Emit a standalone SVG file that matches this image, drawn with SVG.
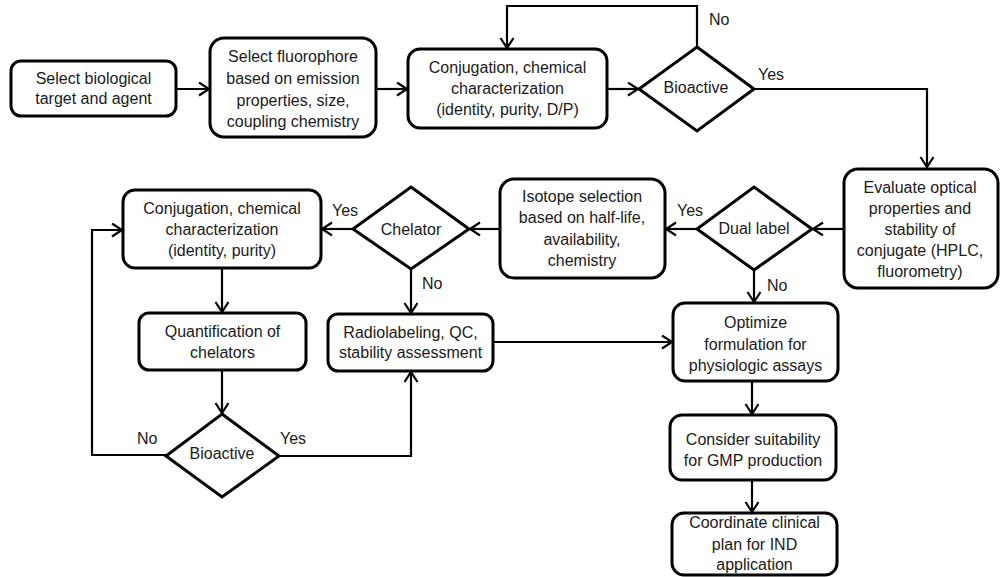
<svg xmlns="http://www.w3.org/2000/svg" width="1000" height="577" viewBox="0 0 1000 577">
<style>
.b{fill:#fff;stroke:#000;stroke-width:3}
.t{font-family:"Liberation Sans",Arial,sans-serif;font-size:16px;fill:#1a1a1a;text-anchor:middle}
.l{font-family:"Liberation Sans",Arial,sans-serif;font-size:16px;fill:#1a1a1a}
.c{fill:none;stroke:#000;stroke-width:2.2}
</style>
<defs>
<marker id="a" markerUnits="userSpaceOnUse" markerWidth="14" markerHeight="16" refX="11" refY="7" orient="auto">
<path d="M1,0.5 L11,7 L1,13.5" fill="none" stroke="#000" stroke-width="2.2"/>
</marker>
</defs>
<rect width="1000" height="577" fill="#fff"/>
<g id="connectors">
<path class="c" d="M176,89 H209" marker-end="url(#a)"/>
<path class="c" d="M376,89 H407" marker-end="url(#a)"/>
<path class="c" d="M607,89 H638" marker-end="url(#a)"/>
<path class="c" d="M697,47 V6 H507 V48" marker-end="url(#a)"/>
<path class="c" d="M754,89 H927 V167" marker-end="url(#a)"/>
<path class="c" d="M844,229 H813" marker-end="url(#a)"/>
<path class="c" d="M697,229 H666" marker-end="url(#a)"/>
<path class="c" d="M499,229 H470" marker-end="url(#a)"/>
<path class="c" d="M353,229 H322" marker-end="url(#a)"/>
<path class="c" d="M411,269 V313" marker-end="url(#a)"/>
<path class="c" d="M754,270 V302" marker-end="url(#a)"/>
<path class="c" d="M222,268 V312" marker-end="url(#a)"/>
<path class="c" d="M222,370 V413" marker-end="url(#a)"/>
<path class="c" d="M166,455 H92 V230 H122" marker-end="url(#a)"/>
<path class="c" d="M279,456 H411 V372" marker-end="url(#a)"/>
<path class="c" d="M493,342 H672" marker-end="url(#a)"/>
<path class="c" d="M752,381 V414" marker-end="url(#a)"/>
<path class="c" d="M752,480 V512" marker-end="url(#a)"/>
</g>
<g id="labels">
<text class="l" x="709" y="25">No</text>
<text class="l" x="758" y="80">Yes</text>
<text class="l" x="677" y="216">Yes</text>
<text class="l" x="332" y="216">Yes</text>
<text class="l" x="767" y="291">No</text>
<text class="l" x="422" y="289">No</text>
<text class="l" x="137" y="444">No</text>
<text class="l" x="280" y="444">Yes</text>
</g>
<g id="n1"><rect class="b" x="11" y="61" width="165" height="55" rx="10"/>
<text class="t" x="93.5" y="84">Select biological</text><text class="t" x="93.5" y="104">target and agent</text></g>
<g id="n2"><rect class="b" x="210" y="38" width="166" height="99" rx="14"/>
<text class="t" x="293" y="62">Select fluorophore</text><text class="t" x="293" y="84">based on emission</text><text class="t" x="293" y="106">properties, size,</text><text class="t" x="293" y="127">coupling chemistry</text></g>
<g id="n3"><rect class="b" x="408" y="49" width="199" height="79" rx="12"/>
<text class="t" x="507.5" y="73">Conjugation, chemical</text><text class="t" x="507.5" y="94">characterization</text><text class="t" x="507.5" y="115">(identity, purity, D/P)</text></g>
<g id="d1"><polygon class="b" points="697,47 754,89 697,131 639,89"/>
<text class="t" x="696" y="93">Bioactive</text></g>
<g id="n4"><rect class="b" x="844" y="169" width="154" height="119" rx="14"/>
<text class="t" x="920" y="193">Evaluate optical</text><text class="t" x="920" y="214">properties and</text><text class="t" x="920" y="235">stability of</text><text class="t" x="920" y="256">conjugate (HPLC,</text><text class="t" x="920" y="277">fluorometry)</text></g>
<g id="d2"><polygon class="b" points="754,187 812,229 754,270 697,229"/>
<text class="t" x="754" y="234">Dual label</text></g>
<g id="n5"><rect class="b" x="500" y="179" width="165" height="99" rx="14"/>
<text class="t" x="582" y="202">Isotope selection</text><text class="t" x="582" y="223">based on half-life,</text><text class="t" x="582" y="245">availability,</text><text class="t" x="582" y="266">chemistry</text></g>
<g id="d3"><polygon class="b" points="411,187 469,229 411,269 353,229"/>
<text class="t" x="411" y="235">Chelator</text></g>
<g id="n6"><rect class="b" x="123" y="190" width="198" height="78" rx="12"/>
<text class="t" x="222" y="214">Conjugation, chemical</text><text class="t" x="222" y="235">characterization</text><text class="t" x="222" y="256">(identity, purity)</text></g>
<g id="n7"><rect class="b" x="139" y="313" width="167" height="57" rx="10"/>
<text class="t" x="222.5" y="337">Quantification of</text><text class="t" x="222.5" y="358">chelators</text></g>
<g id="n8"><rect class="b" x="328" y="314" width="165" height="57" rx="10"/>
<text class="t" x="410.5" y="338">Radiolabeling, QC,</text><text class="t" x="410.5" y="358">stability assessment</text></g>
<g id="d4"><polygon class="b" points="222,414 279,456 222,497 166,456"/>
<text class="t" x="222" y="459">Bioactive</text></g>
<g id="n9"><rect class="b" x="673" y="303" width="165" height="78" rx="12"/>
<text class="t" x="755.5" y="328">Optimize</text><text class="t" x="755.5" y="350">formulation for</text><text class="t" x="755.5" y="371">physiologic assays</text></g>
<g id="n10"><rect class="b" x="670" y="415" width="166" height="65" rx="12"/>
<text class="t" x="753" y="445">Consider suitability</text><text class="t" x="753" y="466">for GMP production</text></g>
<g id="n11"><rect class="b" x="672" y="513" width="165" height="62" rx="12"/>
<text class="t" x="754.5" y="528">Coordinate clinical</text><text class="t" x="754.5" y="550">plan for IND</text><text class="t" x="754.5" y="570">application</text></g>
</svg>
